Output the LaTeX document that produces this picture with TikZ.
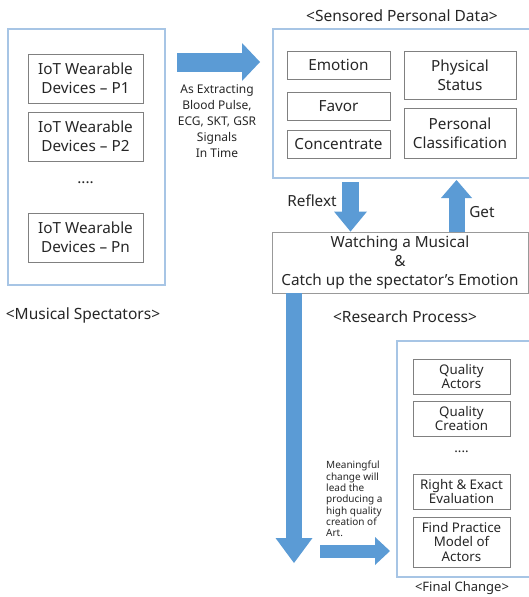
\documentclass[tikz,border=0pt]{standalone}
\usepackage{fontspec}
\setmainfont{Noto Sans}
\usetikzlibrary{arrows.meta}

\definecolor{arrowblue}{HTML}{5B9BD5}
\definecolor{frameblue}{HTML}{A7C5E5}
\definecolor{boxgray}{HTML}{808080}
\definecolor{txtgray}{HTML}{262626}

\begin{document}
\begin{tikzpicture}[x=1pt,y=-1pt,text=txtgray,font=\fontsize{15.3}{19}\selectfont,
                    group/.style={draw=frameblue,line width=1.1pt,inner sep=0pt},
                    item/.style={draw=boxgray,line width=0.9pt,align=center,inner sep=0pt},
                    small/.style={font=\fontsize{13.3}{14.3}\selectfont},
                    fat/.style n args={3}{draw=arrowblue,line width=#1,
                      -{Triangle[width=#2,length=#3,line width=0pt]}}]

  \useasboundingbox (0,0) rectangle (528,597);

  % spectators
  \node[group,minimum width=157pt,minimum height=256pt] (spec) at (86.5,157) {};
  \node[item,minimum width=115pt,minimum height=49pt] (p1) at (85.5,78.5) {IoT Wearable\\Devices -- P1};
  \node[item,minimum width=115pt,minimum height=49pt] (p2) at (85.5,136.5) {IoT Wearable\\Devices -- P2};
  \node (pdots) at (85.5,183) {....};
  \node[item,minimum width=115pt,minimum height=49pt] (pn) at (85.5,237.5) {IoT Wearable\\Devices -- Pn};
  \node[font=\fontsize{15.5}{19}\selectfont] (spectitle) at (83,315) {<Musical Spectators>};

  % sensored data
  \node[group,minimum width=257pt,minimum height=149pt] (data) at (401.5,103.5) {};
  \node[font=\fontsize{15.5}{19}\selectfont] (datatitle) at (402,16) {<Sensored Personal Data>};
  \node[item,minimum width=103pt,minimum height=28pt] (emotion) at (338.5,65) {Emotion};
  \node[item,minimum width=103pt,minimum height=28pt] (favor) at (338.5,106) {Favor};
  \node[item,minimum width=103pt,minimum height=28pt] (conc) at (338.5,144) {Concentrate};
  \node[item,minimum width=112pt,minimum height=48pt] (phys) at (460,75) {Physical\\Status};
  \node[item,minimum width=112pt,minimum height=50pt] (pers) at (460,133) {Personal\\Classification};

  % research process
  \node[item,draw=boxgray!80,minimum width=256pt,minimum height=61pt] (watch) at (400,262.5)
       {Watching a Musical\\\&\\Catch up the spectator’s Emotion};
  \node[font=\fontsize{15.5}{19}\selectfont] (restitle) at (405,317) {<Research Process>};

  % final change
  \node[group,minimum width=133pt,minimum height=236pt] (final) at (463.5,459) {};
  \node[font=\fontsize{13}{14}\selectfont] (finaltitle) at (462,588) {<Final Change>};
  \node[item,small,minimum width=97pt,minimum height=35pt] (qa) at (461.5,376.5) {Quality\\Actors};
  \node[item,small,minimum width=97pt,minimum height=35pt] (qc) at (461.5,418.5) {Quality\\Creation};
  \node[small] (fdots) at (461.5,452) {....};
  \node[item,small,minimum width=97pt,minimum height=35pt] (eval) at (461.5,491.5) {Right \& Exact\\Evaluation};
  \node[item,small,minimum width=97pt,minimum height=50pt] (model) at (461.5,542) {Find Practice\\Model of\\Actors};

  % arrow ends
  \coordinate (exA) at (177,62);
  \coordinate (exB) at (260,62);
  \coordinate (rfA) at (350.5,182);
  \coordinate (gtB) at (456.5,180);
  \coordinate (lgA) at (294,293);
  \coordinate (lgB) at (294,563);
  \coordinate (mcA) at (320,551);
  \coordinate (mcB) at (390,551);

  \draw[fat={19pt}{38pt}{18pt}] (exA) -- (exB);
  \draw[fat={17pt}{33pt}{20pt}] (rfA) -- (rfA |- watch.north);
  \draw[fat={16pt}{31pt}{18pt}] (gtB |- watch.north) -- (gtB);
  \draw[fat={16pt}{37pt}{25pt}] (lgA) -- (lgB);
  \draw[fat={13pt}{28pt}{15pt}] (mcA) -- (mcB);

  % arrow texts
  \node[align=center,font=\fontsize{12}{16}\selectfont] (extxt) at (217,121)
       {As Extracting\\Blood Pulse,\\ECG, SKT, GSR\\Signals\\In Time};
  \node (reflxt) at (312,201) {Reflext};
  \node (gettxt) at (482,212) {Get};
  \node[anchor=west,align=left,inner sep=0pt,font=\fontsize{10}{11.3}\selectfont] (mctxt) at (326,499)
       {Meaningful\\change will\\lead the\\producing a\\high quality\\creation of\\Art.};

\end{tikzpicture}
\end{document}
